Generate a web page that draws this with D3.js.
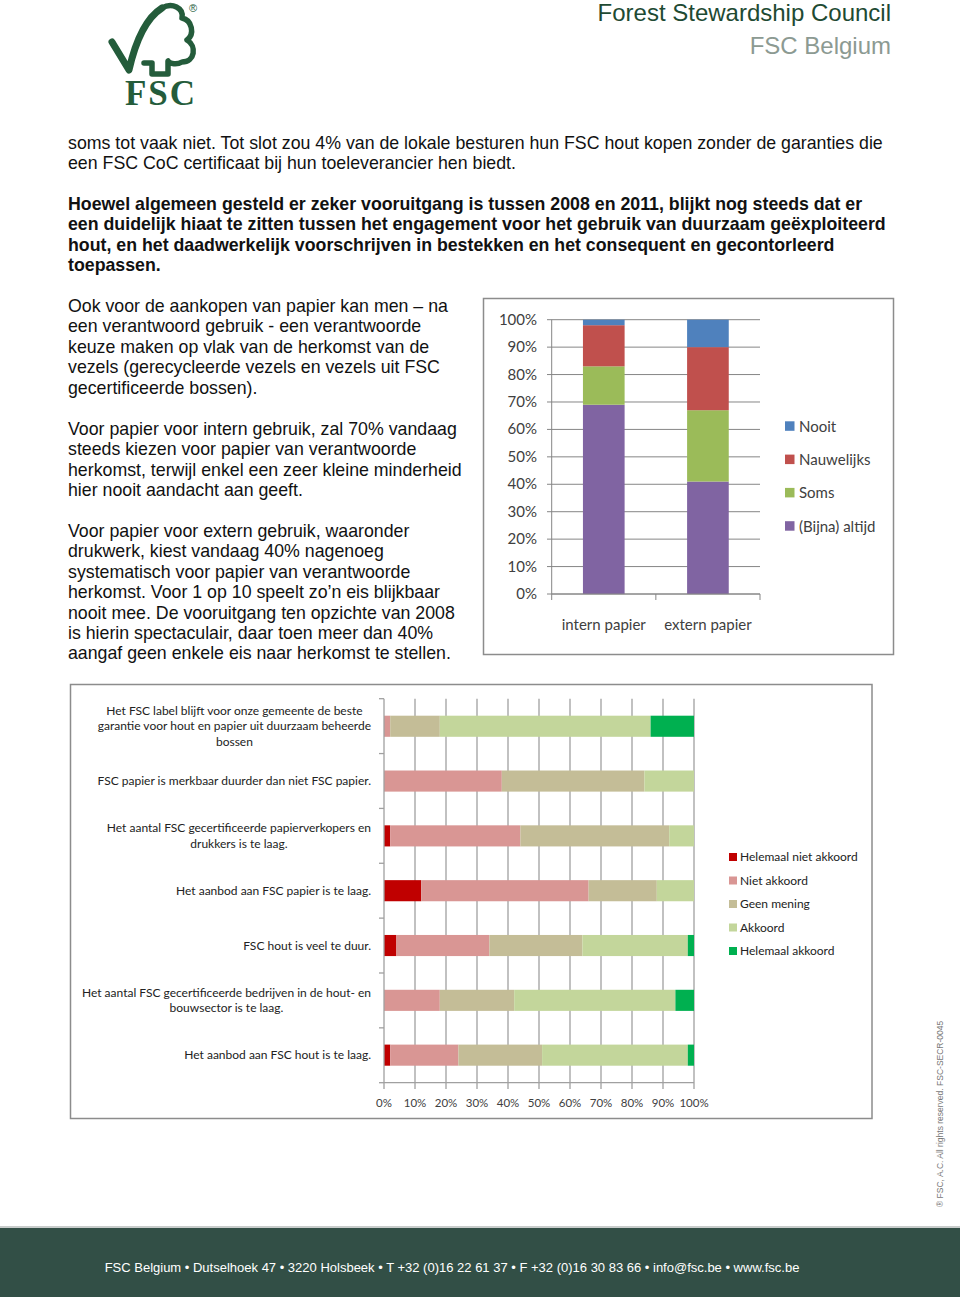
<!DOCTYPE html>
<html><head><meta charset="utf-8">
<script src="https://cdn.jsdelivr.net/npm/d3@7"></script>
<style>
body{margin:0;background:#fff;}
svg{display:block;}
</style></head>
<body>
<svg id="page" width="960" height="1297"></svg>
<script>
// ---------- DATA ----------
const topCategories = ["intern papier", "extern papier"];
const topSeries = ["(Bijna) altijd", "Soms", "Nauwelijks", "Nooit"];
const topColors = ["#8064A2", "#9BBB59", "#C0504D", "#4F81BD"];
const internValues = [69, 14, 15, 2];
const externValues = [41, 26, 23, 10];
const topTicks = [0,10,20,30,40,50,60,70,80,90,100];

const statements = [
  ["Het FSC label blijft voor onze gemeente de beste", "garantie voor hout en papier uit duurzaam beheerde", "bossen"],
  ["FSC papier is merkbaar duurder dan niet FSC papier."],
  ["Het aantal  FSC gecertificeerde papierverkopers en", "drukkers is te laag."],
  ["Het aanbod aan FSC papier is te laag."],
  ["FSC hout is veel te duur."],
  ["Het aantal  FSC gecertificeerde bedrijven in de hout- en", "bouwsector is te laag."],
  ["Het aanbod aan FSC hout is te laag."]
];
const bottomSeries = ["Helemaal niet akkoord", "Niet akkoord", "Geen mening", "Akkoord", "Helemaal akkoord"];
const bottomColors = ["#C00000", "#D99694", "#C4BD97", "#C3D69B", "#00B050"];
const helemaalNiet   = [0, 0, 2, 12, 4, 0, 2];
const nietAkkoord    = [2, 38, 42, 54, 30, 18, 22];
const geenMening     = [16, 46, 48, 22, 30, 24, 27];
const akkoord        = [68, 16, 8, 12, 34, 52, 47];
const helemaalAkk    = [14, 0, 0, 0, 2, 6, 2];
const bottomTicks = [0,10,20,30,40,50,60,70,80,90,100];

const introLines = [
  "soms tot vaak niet. Tot slot zou 4% van de lokale besturen hun FSC hout kopen zonder de garanties die",
  "een FSC CoC certificaat bij hun toeleverancier hen biedt."
];
const boldLines = [
  "Hoewel algemeen gesteld er zeker vooruitgang is tussen 2008 en 2011, blijkt nog steeds dat er",
  "een duidelijk hiaat te zitten tussen het engagement voor het gebruik van duurzaam geëxploiteerd",
  "hout, en het daadwerkelijk voorschrijven in bestekken en het consequent en gecontorleerd",
  "toepassen."
];
const columnParas = [
  ["Ook voor de aankopen van papier kan men – na", "een verantwoord gebruik -  een verantwoorde", "keuze maken op vlak van de herkomst van de", "vezels (gerecycleerde vezels en vezels uit FSC", "gecertificeerde bossen)."],
  ["Voor papier voor intern gebruik, zal 70% vandaag", "steeds kiezen voor papier van verantwoorde", "herkomst, terwijl enkel een zeer kleine minderheid", "hier nooit aandacht aan geeft."],
  ["Voor papier voor extern gebruik, waaronder", "drukwerk, kiest vandaag 40% nagenoeg", "systematisch voor papier van verantwoorde", "herkomst. Voor 1 op 10 speelt zo’n eis blijkbaar", "nooit mee. De vooruitgang ten opzichte van 2008", "is hierin spectaculair, daar toen meer dan 40%", "aangaf geen enkele eis naar herkomst te stellen."]
];
const footerText = "FSC Belgium • Dutselhoek 47 • 3220 Holsbeek • T +32 (0)16 22 61 37 • F +32 (0)16 30 83 66 • info@fsc.be • www.fsc.be";

// ---------- PAGE ----------
const svg = d3.select("#page");
svg.append("rect").attr("width",960).attr("height",1297).attr("fill","#fff");
const bodyFont = "'Liberation Sans', Arial, sans-serif";
const chartFont = "Lato, 'Open Sans', sans-serif";

// logo
const logo = svg.append("g").attr("fill","none").attr("stroke","#245C3B").attr("stroke-linejoin","round").attr("stroke-linecap","round");
logo.append("path").attr("stroke-width",7)
  .attr("d","M112,42 L129,70 C134,48 143,20 162,8");
logo.append("path").attr("stroke-width",5.5)
  .attr("d","M162,8 C172,2 184,8 182,18 C192,20 195,34 187,40 C197,46 195,62 182,62 C177,65 170,64 168,61 L168,74 L152,74 L152,63 L144,63");
svg.append("text").attr("x",160).attr("y",105).attr("text-anchor","middle")
  .attr("font-family","'Liberation Serif', 'DejaVu Serif', serif").attr("font-weight","bold")
  .attr("font-size",35).attr("fill","#245C3B").attr("textLength",70).text("FSC");
svg.append("text").attr("x",189).attr("y",12).attr("font-family",bodyFont).attr("font-size",11).attr("fill","#245C3B").text("®");

// header text
svg.append("text").attr("x",891).attr("y",21).attr("text-anchor","end").attr("font-family",bodyFont)
  .attr("font-size",24).attr("fill","#1E4A33").text("Forest Stewardship Council");
svg.append("text").attr("x",891).attr("y",54).attr("text-anchor","end").attr("font-family",bodyFont)
  .attr("font-size",24).attr("fill","#8C9A92").text("FSC Belgium");

// body text
function lines(arr, x, y0, step, weight){
  arr.forEach((t,i)=>{
    svg.append("text").attr("x",x).attr("y",y0+i*step).attr("font-family",bodyFont)
      .attr("font-size",17.75).attr("font-weight",weight||"normal").attr("fill","#111").text(t);
  });
}
lines(introLines, 68, 149, 20.4);
lines(boldLines, 68, 210, 20.4, "bold");
lines(columnParas[0], 68, 312, 20.4);
lines(columnParas[1], 68, 435, 20.4);
lines(columnParas[2], 68, 537, 20.4);

// ---------- TOP CHART ----------
svg.append("rect").attr("x",483.5).attr("y",298.5).attr("width",410).attr("height",356)
  .attr("fill","#fff").attr("stroke","#8c8c8c").attr("stroke-width",1.5);
const ty = d3.scaleLinear().domain([0,100]).range([594,319.7]);
const tx = d3.scaleBand().domain(topCategories).range([551.7,760]).paddingInner(0.6).paddingOuter(0.3);
const tg = svg.append("g");
tg.selectAll("line.grid").data(topTicks).join("line")
  .attr("x1",547).attr("x2",760).attr("y1",d=>ty(d)).attr("y2",d=>ty(d))
  .attr("stroke","#868686").attr("stroke-width",1);
const topData = topCategories.map((c,i)=>{ const o={cat:c}; topSeries.forEach((s,j)=>o[s]=(i===0?internValues:externValues)[j]); return o; });
const topStack = d3.stack().keys(topSeries)(topData);
tg.selectAll("g.s").data(topStack).join("g").attr("fill",(d,i)=>topColors[i])
  .selectAll("rect").data(d=>d).join("rect")
  .attr("x",d=>tx(d.data.cat)).attr("width",tx.bandwidth())
  .attr("y",d=>ty(d[1])).attr("height",d=>ty(d[0])-ty(d[1]));
tg.append("line").attr("x1",551.7).attr("x2",551.7).attr("y1",ty(100)).attr("y2",594).attr("stroke","#868686");
tg.append("line").attr("x1",551.7).attr("x2",760).attr("y1",594).attr("y2",594).attr("stroke","#868686");
const catEdges = [551.7, (551.7+760)/2, 760];
tg.selectAll("line.ct").data(catEdges).join("line").attr("x1",d=>d).attr("x2",d=>d).attr("y1",594).attr("y2",600).attr("stroke","#868686");
tg.selectAll("text.yl").data(topTicks).join("text")
  .attr("x",537).attr("y",d=>ty(d)+5).attr("text-anchor","end")
  .attr("font-family",chartFont).attr("font-size",15).attr("fill","#404040").text(d=>d+"%");
tg.selectAll("text.xl").data(topCategories).join("text")
  .attr("x",d=>tx(d)+tx.bandwidth()/2).attr("y",630).attr("text-anchor","middle")
  .attr("font-family",chartFont).attr("font-size",15).attr("fill","#404040").text(d=>d);
const topLegend = topSeries.slice().reverse();
const topLegendColors = topColors.slice().reverse();
topLegend.forEach((s,i)=>{
  const y = 426.3 + i*33.3;
  tg.append("rect").attr("x",785).attr("y",y-5).attr("width",9.5).attr("height",9.5).attr("fill",topLegendColors[i]);
  tg.append("text").attr("x",799).attr("y",y+5.5).attr("font-family",chartFont).attr("font-size",15).attr("fill","#404040").text(s);
});

// ---------- BOTTOM CHART ----------
svg.append("rect").attr("x",70.5).attr("y",684.5).attr("width",801.5).attr("height",434)
  .attr("fill","#fff").attr("stroke","#8c8c8c").attr("stroke-width",1.5);
const bx = d3.scaleLinear().domain([0,100]).range([384,694]);
const by = d3.scaleBand().domain(d3.range(statements.length)).range([698.7,1082.7]).paddingInner(0.615).paddingOuter(0.31);
const bg = svg.append("g");
bg.selectAll("line.vg").data(bottomTicks.slice(1)).join("line")
  .attr("x1",d=>bx(d)).attr("x2",d=>bx(d)).attr("y1",698.7).attr("y2",1089)
  .attr("stroke","#a0a0a0").attr("stroke-width",1.3);
const bottomData = statements.map((s,i)=>({i, "Helemaal niet akkoord":helemaalNiet[i], "Niet akkoord":nietAkkoord[i], "Geen mening":geenMening[i], "Akkoord":akkoord[i], "Helemaal akkoord":helemaalAkk[i]}));
const bStack = d3.stack().keys(bottomSeries)(bottomData);
bg.selectAll("g.s").data(bStack).join("g").attr("fill",(d,i)=>bottomColors[i])
  .selectAll("rect").data(d=>d).join("rect")
  .attr("x",d=>bx(d[0])).attr("width",d=>bx(d[1])-bx(d[0]))
  .attr("y",d=>by(d.data.i)).attr("height",by.bandwidth());
bg.append("line").attr("x1",384).attr("x2",384).attr("y1",698.7).attr("y2",1082.7).attr("stroke","#a0a0a0").attr("stroke-width",1.3);
bg.append("line").attr("x1",384).attr("x2",694).attr("y1",1082.7).attr("y2",1082.7).attr("stroke","#a0a0a0").attr("stroke-width",1.3);
bg.append("line").attr("x1",384).attr("x2",384).attr("y1",1082.7).attr("y2",1089).attr("stroke","#a0a0a0").attr("stroke-width",1.3);
const bandEdges = d3.range(statements.length+1).map(k=>698.7 + k*(1082.7-698.7)/statements.length);
bg.selectAll("line.ht").data(bandEdges).join("line")
  .attr("x1",379).attr("x2",384).attr("y1",d=>d).attr("y2",d=>d).attr("stroke","#a0a0a0").attr("stroke-width",1.3);
bg.selectAll("text.xl").data(bottomTicks).join("text")
  .attr("x",d=>bx(d)).attr("y",1107).attr("text-anchor","middle")
  .attr("font-family",chartFont).attr("font-size",11.5).attr("fill","#404040").text(d=>d+"%");
statements.forEach((ls,i)=>{
  const cy = by(i)+by.bandwidth()/2;
  const g = bg.append("g");
  const step = 15.5;
  const texts = ls.map((t,k)=> g.append("text").attr("y", cy + (k-(ls.length-1)/2)*step + 4)
      .attr("text-anchor","middle").attr("font-family",chartFont).attr("font-size",12).attr("fill","#222").text(t));
  const maxW = d3.max(texts, t=>t.node().getComputedTextLength());
  texts.forEach(t=>t.attr("x", 371 - maxW/2));
});
bottomSeries.forEach((s,i)=>{
  const y = 857 + i*23.5;
  bg.append("rect").attr("x",729).attr("y",y-4).attr("width",8).attr("height",8).attr("fill",bottomColors[i]);
  bg.append("text").attr("x",740).attr("y",y+4).attr("font-family",chartFont).attr("font-size",12).attr("fill","#222").text(s);
});

// rotated copyright
svg.append("text").attr("transform","translate(943,1207) rotate(-90)")
  .attr("font-family",bodyFont).attr("font-size",8.5).attr("fill","#777")
  .text("® FSC, A.C. All rights reserved.  FSC-SECR-0045");

// footer
svg.append("rect").attr("x",0).attr("y",1226).attr("width",960).attr("height",2).attr("fill","#c8cccb");
svg.append("rect").attr("x",0).attr("y",1228).attr("width",960).attr("height",69).attr("fill","#324F46");
svg.append("text").attr("x",452).attr("y",1271.5).attr("text-anchor","middle").attr("font-family",bodyFont)
  .attr("font-size",13).attr("fill","#fff").text(footerText);
</script>
</body></html>
